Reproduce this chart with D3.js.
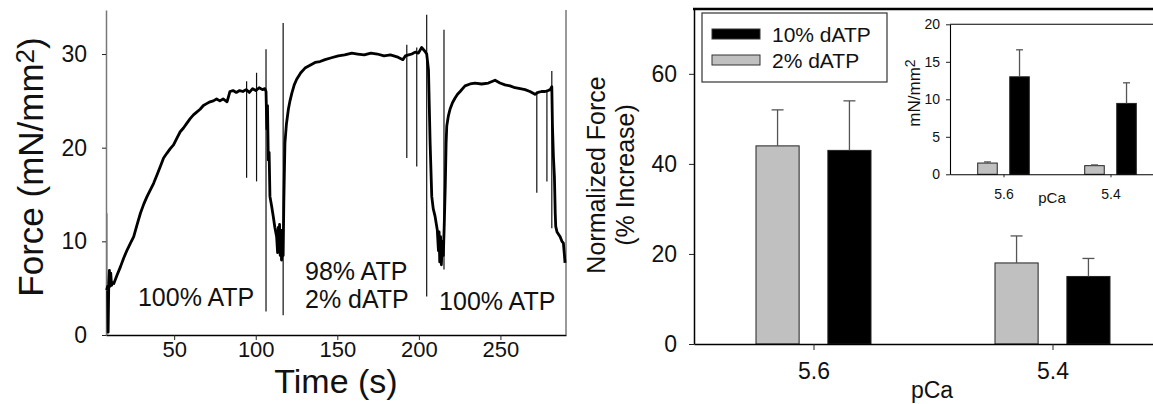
<!DOCTYPE html>
<html>
<head>
<meta charset="utf-8">
<script src="https://cdn.jsdelivr.net/npm/d3@7"></script>
<style>
  html, body { margin: 0; padding: 0; background: #fff; }
  svg { display: block; }
</style>
</head>
<body>
<script>
// ---- Data: force trace (left panel) ----
const timeS = [8.6, 9.2, 9.5, 9.9, 10.3, 10.7, 11.1, 11.6, 12.3, 13.0, 15.0, 17.1, 19.0, 21.2, 23.2, 25.2, 27.3, 29.3, 31.4, 33.4,
  35.4, 37.4, 39.5, 41.5, 43.5, 45.5, 47.6, 49.6, 51.6, 53.7, 55.7, 57.7, 59.8, 61.8, 63.8, 65.9, 67.9, 69.9, 72.0, 74.0,
  76.0, 78.0, 80.0, 82.4, 84.2, 86.1, 88.1, 90.1, 92.1, 94.1, 96.1, 98.1, 100.1, 102.1, 104.1, 105.6, 106.3, 106.8, 107.2, 107.7,
  108.2, 108.7, 109.7, 110.7, 111.7, 112.8, 113.4, 113.8, 114.2, 114.6, 115.0, 115.4, 115.8, 116.4, 116.8, 117.2, 117.5, 117.9, 118.8, 120.0,
  121.0, 122.1, 123.6, 125.1, 127.6, 130.2, 133.3, 136.4, 139.4, 142.5, 146.4, 150.6, 154.5, 158.9, 162.5, 166.5, 170.6, 174.6, 178.6, 182.6,
  186.6, 190.2, 191.7, 193.7, 195.7, 197.7, 199.7, 201.7, 203.7, 204.8, 205.9, 206.9, 207.9, 208.8, 209.9, 211.3, 212.0, 212.4, 212.8, 213.3,
  213.8, 214.4, 215.0, 215.6, 216.2, 216.7, 217.1, 218.1, 219.1, 220.6, 222.2, 223.7, 225.3, 228.3, 231.4, 234.4, 238.5, 242.6, 246.7, 249.7,
  252.8, 255.9, 258.9, 262.1, 265.1, 268.1, 271.2, 273.1, 275.2, 277.4, 279.2, 280.5, 281.5, 281.9, 282.5, 283.1, 283.6, 283.9, 284.7, 286.6,
  287.7, 288.6, 289.2, 289.6];
const forceN = [4.8, 5.2, 0.3, 5.6, 6.9, 5.2, 6.6, 5.3, 5.6, 5.5, 6.4, 7.3, 8.2, 9.1, 9.8, 10.5, 11.8, 13.0, 14.0, 14.8,
  15.5, 16.2, 17.1, 18.0, 18.9, 19.4, 19.9, 20.3, 21.0, 21.7, 22.1, 22.6, 23.1, 23.5, 23.8, 24.1, 24.5, 24.7, 24.9, 25.0,
  25.2, 25.0, 25.2, 24.9, 26.0, 26.1, 25.9, 26.1, 26.0, 26.2, 25.9, 26.3, 26.1, 26.4, 26.2, 26.3, 26.0, 22.0, 24.5, 18.7,
  19.5, 14.8, 13.8, 12.7, 11.5, 10.5, 8.8, 11.5, 9.0, 11.8, 8.5, 11.2, 8.0, 9.2, 8.5, 14.0, 16.9, 20.5, 22.5, 24.1,
  25.0, 25.8, 26.7, 27.3, 28.0, 28.5, 28.8, 29.1, 29.2, 29.4, 29.6, 29.8, 29.9, 30.1, 30.0, 29.9, 30.1, 30.0, 29.8, 29.9,
  29.7, 29.4, 29.8, 29.9, 30.0, 30.2, 30.1, 30.7, 30.3, 30.0, 28.3, 20.5, 14.8, 13.5, 12.7, 11.2, 9.0, 11.0, 7.8, 10.5,
  7.5, 10.0, 8.5, 12.0, 16.0, 20.5, 22.3, 23.4, 24.1, 24.8, 25.3, 25.7, 26.0, 26.6, 26.8, 26.9, 26.8, 26.9, 27.2, 26.9,
  26.7, 26.6, 26.4, 26.3, 26.2, 26.0, 25.7, 25.9, 26.0, 26.0, 26.1, 26.2, 26.5, 22.3, 19.0, 16.9, 13.0, 11.6, 11.0, 10.5,
  10.0, 9.8, 8.6, 7.7];

// solution-change artefacts (vertical spikes)
const spikeT = [8.8, 94.4, 100.5, 106.3, 116.8, 192.6, 198.7, 204.8, 215.4, 272.3, 278.5, 281.5];
const spikeHi = [13.0, 27.1, 28.0, 30.5, 33.3, 31.0, 30.7, 34.2, 32.6, 26.0, 26.0, 28.2];
const spikeLo = [0.0, 16.8, 16.4, 2.5, 2.1, 18.9, 18.0, 4.1, 7.0, 15.2, 16.4, 11.4];

const forceTicks = [0, 10, 20, 30];
const timeTicks = [50, 100, 150, 200, 250];

// ---- Data: bar charts (right panel) ----
const pCa = ["5.6", "5.4"];
const series = ["2% dATP", "10% dATP"];
const incr2 = [44, 18];
const incr2Err = [8, 6];
const incr10 = [43, 15];
const incr10Err = [11, 4];
const incrTicks = [0, 20, 40, 60];

const abs2 = [1.5, 1.15];
const abs2Err = [0.15, 0.1];
const abs10 = [13.0, 9.45];
const abs10Err = [3.6, 2.75];
const absTicks = [0, 5, 10, 15, 20];

// ---- Setup ----
const FONT = "'Liberation Sans', Arial, Helvetica, sans-serif";
const fill = { "2% dATP": "#c0c0c0", "10% dATP": "#000000" };

const svg = d3.select("body").append("svg")
  .attr("width", 1153)
  .attr("height", 404)
  .attr("font-family", FONT);

function styleAxis(g, size, domainColor, domainWidth) {
  g.attr("font-family", FONT).attr("font-size", size);
  g.select(".domain").attr("stroke", domainColor).attr("stroke-width", domainWidth);
  g.selectAll(".tick text").attr("fill", "#111");
  g.selectAll(".tick line").attr("stroke", "#222");
}

// ================= Left panel: force trace =================
const xT = d3.scaleLinear().domain([8.2, 290.2]).range([106, 566]);
const yF = d3.scaleLinear().domain([0, 34.7]).range([335, 10]);

const left = svg.append("g");

left.append("g")
  .attr("transform", "translate(106,0)")
  .call(d3.axisLeft(yF).tickValues(forceTicks).tickSize(4).tickSizeOuter(0).tickPadding(15))
  .call(g => styleAxis(g, 23, "#777", 1.5));

left.append("g")
  .attr("transform", "translate(0,335)")
  .call(d3.axisBottom(xT).tickValues(timeTicks).tickSize(5).tickSizeOuter(0).tickPadding(1))
  .call(g => styleAxis(g, 22, "#000", 1.5));

// right frame line
left.append("line")
  .attr("x1", xT.range()[1]).attr("x2", xT.range()[1])
  .attr("y1", yF.range()[1]).attr("y2", yF.range()[0])
  .attr("stroke", "#777").attr("stroke-width", 1.5);

// spikes
left.append("g")
  .selectAll("line")
  .data(spikeT)
  .join("line")
  .attr("x1", d => xT(d)).attr("x2", d => xT(d))
  .attr("y1", (d, i) => yF(spikeHi[i]))
  .attr("y2", (d, i) => yF(spikeLo[i]))
  .attr("stroke", (d, i) => i === 0 ? "#777" : "#111")
  .attr("stroke-width", 1.2);

// trace
const trace = d3.zip(timeS, forceN);
left.append("path")
  .datum(trace)
  .attr("fill", "none")
  .attr("stroke", "#000")
  .attr("stroke-width", 2.8)
  .attr("stroke-linejoin", "round")
  .attr("d", d3.line().x(d => xT(d[0])).y(d => yF(d[1])));

// solution labels
const notes = [
  { t: 27.8, f: 3.1, lines: ["100% ATP"] },
  { t: 130.2, f: 5.9, lines: ["98% ATP", "2% dATP"] },
  { t: 212.4, f: 2.67, lines: ["100% ATP"] }
];
notes.forEach(n => {
  const t = left.append("text")
    .attr("x", xT(n.t)).attr("y", yF(n.f))
    .attr("font-size", 25).attr("fill", "#111");
  n.lines.forEach((s, i) => {
    t.append("tspan").attr("x", xT(n.t)).attr("dy", i === 0 ? 0 : 28).text(s);
  });
});

// axis titles
const fLab = left.append("text")
  .attr("transform", "translate(43,167) rotate(-90)")
  .attr("text-anchor", "middle")
  .attr("font-size", 35).attr("fill", "#111");
fLab.append("tspan").text("Force (mN/mm");
fLab.append("tspan").attr("font-size", 26).attr("dy", -9).text("2");
fLab.append("tspan").attr("dy", 9).text(")");

left.append("text")
  .attr("x", 336).attr("y", 393)
  .attr("text-anchor", "middle")
  .attr("font-size", 34).attr("fill", "#111")
  .text("Time (s)");

// ================= Right panel: grouped bars =================
function groupedBars(g, x, sub, y, v2, e2, v10, e10, capW) {
  const rows = pCa.map((p, i) => [
    { p, s: series[0], v: v2[i], e: e2[i] },
    { p, s: series[1], v: v10[i], e: e10[i] }
  ]).flat();

  g.append("g").selectAll("rect")
    .data(rows)
    .join("rect")
    .attr("x", d => x(d.p) + sub(d.s))
    .attr("width", sub.bandwidth())
    .attr("y", d => y(d.v))
    .attr("height", d => y(0) - y(d.v))
    .attr("fill", d => fill[d.s])
    .attr("stroke", "#222").attr("stroke-width", 1);

  const eb = g.append("g").attr("stroke", "#555").attr("stroke-width", 1.3);
  eb.selectAll("line.v")
    .data(rows)
    .join("line").attr("class", "v")
    .attr("x1", d => x(d.p) + sub(d.s) + sub.bandwidth() / 2)
    .attr("x2", d => x(d.p) + sub(d.s) + sub.bandwidth() / 2)
    .attr("y1", d => y(d.v))
    .attr("y2", d => y(d.v + d.e));
  eb.selectAll("line.c")
    .data(rows)
    .join("line").attr("class", "c")
    .attr("x1", d => x(d.p) + sub(d.s) + sub.bandwidth() / 2 - capW / 2)
    .attr("x2", d => x(d.p) + sub(d.s) + sub.bandwidth() / 2 + capW / 2)
    .attr("y1", d => y(d.v + d.e))
    .attr("y2", d => y(d.v + d.e));
}

const right = svg.append("g");
const xP = d3.scalePoint().domain(pCa).range([694, 1172]).padding(0.5);
const xSub = d3.scaleBand().domain(series).range([-57.5, 57.5]).paddingInner(0.4);
const yP = d3.scaleLinear().domain([0, 74.4]).range([344, 9]);

groupedBars(right, xP, xSub, yP, incr2, incr2Err, incr10, incr10Err, 12);

right.append("g")
  .attr("transform", "translate(694,0)")
  .call(d3.axisLeft(yP).tickValues(incrTicks).tickSize(5).tickSizeOuter(0).tickPadding(12))
  .call(g => styleAxis(g, 23, "#000", 1.5));

right.append("g")
  .attr("transform", "translate(0,344)")
  .call(d3.axisBottom(xP).tickSize(6).tickSizeOuter(0).tickPadding(13))
  .call(g => styleAxis(g, 23, "#000", 1.5));

right.append("line")
  .attr("x1", 693).attr("x2", 1153)
  .attr("y1", yP(74.4)).attr("y2", yP(74.4))
  .attr("stroke", "#000").attr("stroke-width", 2.5);

right.append("text")
  .attr("x", 932).attr("y", 398)
  .attr("text-anchor", "middle")
  .attr("font-size", 23).attr("fill", "#111")
  .text("pCa");

const nLab = right.append("text")
  .attr("transform", "translate(605,175) rotate(-90)")
  .attr("text-anchor", "middle")
  .attr("font-size", 25).attr("fill", "#111");
nLab.append("tspan").attr("x", 0).attr("y", 0).text("Normalized Force");
nLab.append("tspan").attr("x", 0).attr("y", 29).text("(% Increase)");

// legend
const legend = right.append("g").attr("transform", "translate(702,13)");
legend.append("rect")
  .attr("width", 185).attr("height", 69)
  .attr("fill", "#fff").attr("stroke", "#333").attr("stroke-width", 1.2);
const legendItems = [series[1], series[0]];
const li = legend.selectAll("g.item")
  .data(legendItems)
  .join("g").attr("class", "item")
  .attr("transform", (d, i) => `translate(10,${16 + i * 26})`);
li.append("rect")
  .attr("width", 48).attr("height", 10)
  .attr("fill", d => fill[d]).attr("stroke", "#333").attr("stroke-width", 1);
li.append("text")
  .attr("x", 60).attr("y", 13)
  .attr("font-size", 21).attr("fill", "#111")
  .text(d => d);

// ---- inset: absolute force ----
const inset = svg.append("g");
const xI = d3.scalePoint().domain(pCa).range([950, 1164]).padding(0.5);
const xSubI = d3.scaleBand().domain(series).range([-25.8, 25.8]).paddingInner(0.39);
const yI = d3.scaleLinear().domain([0, 20]).range([174.3, 24.3]);

groupedBars(inset, xI, xSubI, yI, abs2, abs2Err, abs10, abs10Err, 7);

inset.append("g")
  .attr("transform", "translate(950,0)")
  .call(d3.axisLeft(yI).tickValues(absTicks).tickSize(4).tickSizeOuter(0).tickPadding(6))
  .call(g => styleAxis(g, 14, "#000", 1.1));

inset.append("g")
  .attr("transform", "translate(0,174.3)")
  .call(d3.axisBottom(xI).tickSize(3).tickSizeOuter(0).tickPadding(12))
  .call(g => styleAxis(g, 14, "#000", 1.1));

inset.append("line")
  .attr("x1", 950).attr("x2", 1153)
  .attr("y1", yI(20)).attr("y2", yI(20))
  .attr("stroke", "#000").attr("stroke-width", 1.1);

inset.append("text")
  .attr("x", 1052).attr("y", 203)
  .attr("text-anchor", "middle")
  .attr("font-size", 15).attr("fill", "#111")
  .text("pCa");

const iLab = inset.append("text")
  .attr("transform", "translate(920,93) rotate(-90)")
  .attr("text-anchor", "middle")
  .attr("font-size", 17).attr("fill", "#111");
iLab.append("tspan").text("mN/mm");
iLab.append("tspan").attr("font-size", 14).attr("dy", -5).text("2");
</script>
</body>
</html>
